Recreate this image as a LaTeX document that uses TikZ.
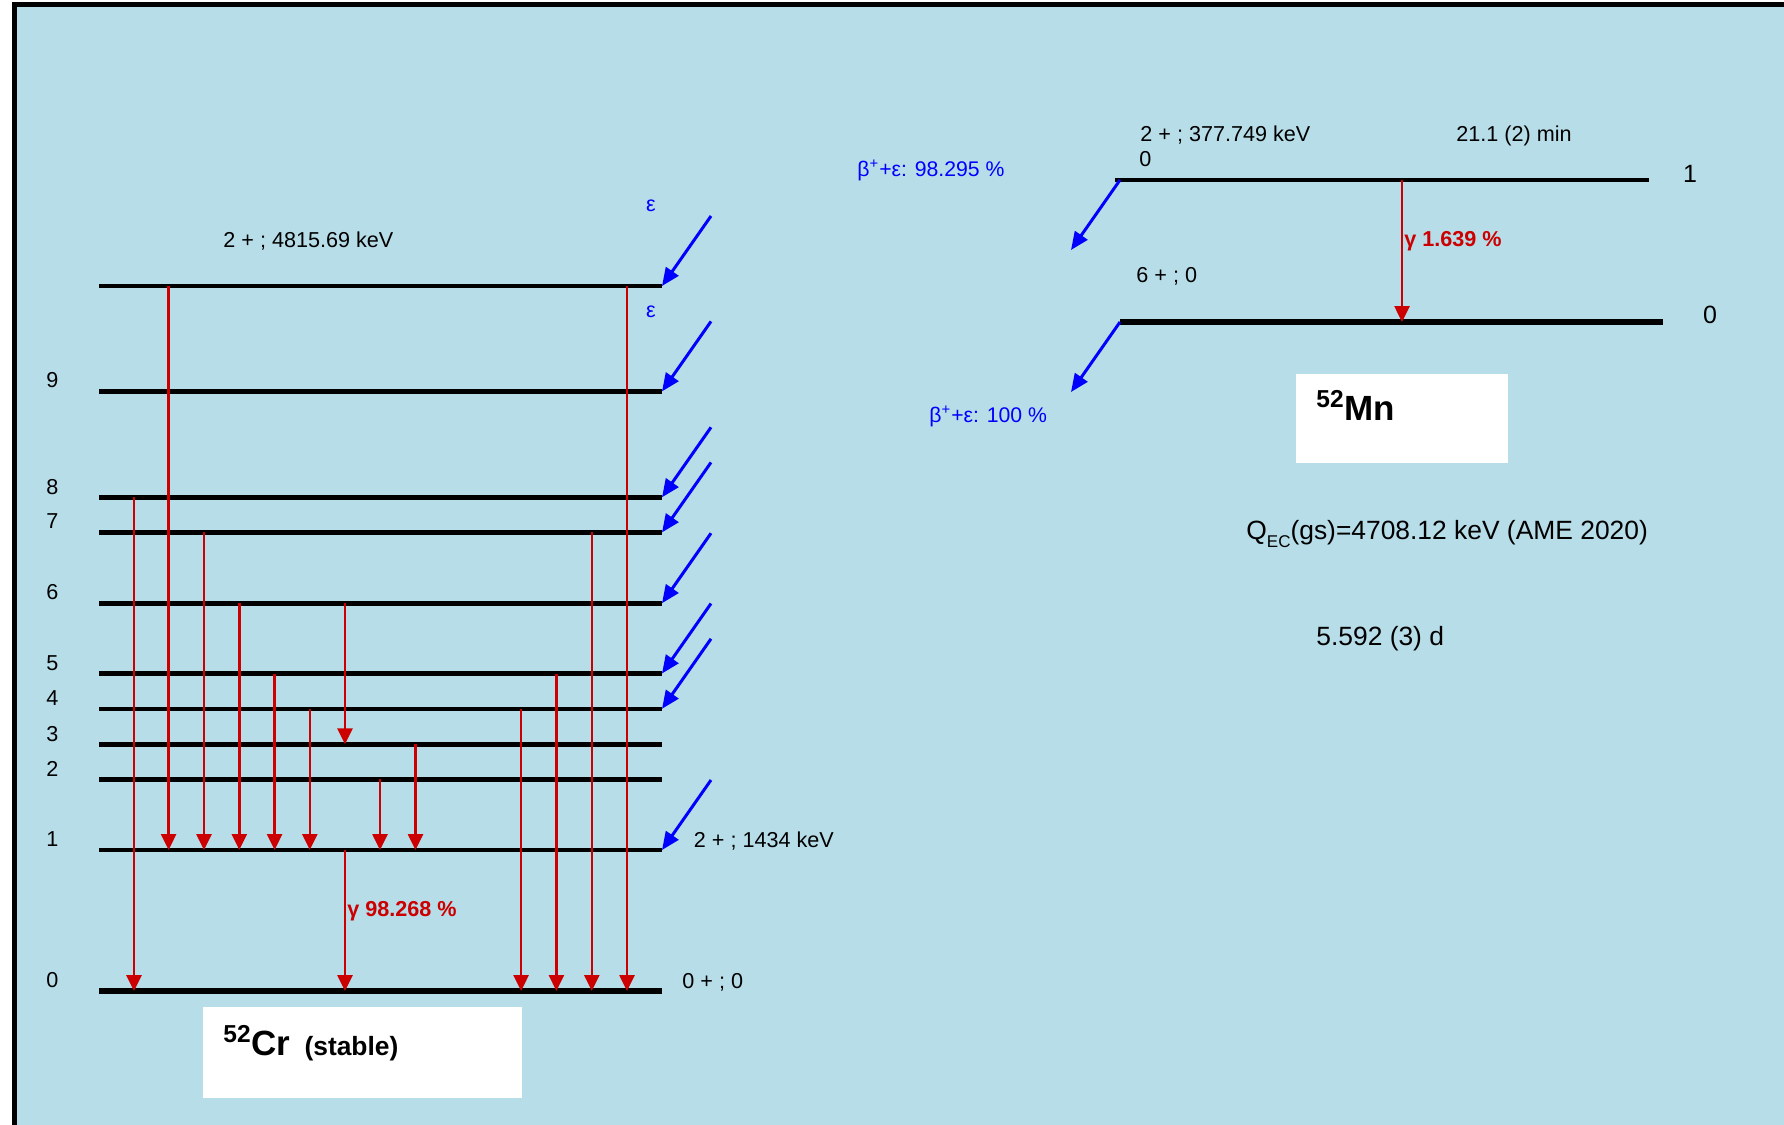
\documentclass[tikz,border=0pt]{standalone}
\usepackage{fontspec}
\setmainfont{Liberation Sans}
\usetikzlibrary{arrows.meta,calc}
\definecolor{bg}{RGB}{183,221,232}
\definecolor{gred}{RGB}{204,0,0}
\definecolor{fblue}{RGB}{0,0,255}
\begin{document}
\begin{tikzpicture}[x=0.5pt,y=-0.5pt,
  lev/.style={line width=2.3pt},
  gslev/.style={line width=2.8pt},
  gam/.style={gred,line width=1.3pt,-{Triangle[width=7.5pt,length=8pt]}},
  feed/.style={fblue,line width=1.5pt,-{Triangle[width=7.5pt,length=9pt]}},
  txt/.style={inner sep=0pt,font=\fontsize{10.8}{13}\selectfont},
  num/.style={txt,anchor=base},
  lbl/.style={txt,anchor=base west},
  blbl/.style={lbl,text=fblue,font=\fontsize{10.6}{13}\selectfont},
  glbl/.style={lbl,text=gred,font=\fontsize{10.8}{13}\selectfont\bfseries},
  big/.style={inner sep=0pt,anchor=base west,font=\fontsize{13.2}{16}\selectfont},
  wbox/.style={fill=white,draw=none,inner sep=0pt},
  nuc/.style={inner sep=0pt,anchor=base west,font=\bfseries\fontsize{17.5}{20}\selectfont}
]
\useasboundingbox (0,0) rectangle (1784,1125);
\clip (0,0) rectangle (1784,1125);
% background and frame
\fill[white] (0,0) rectangle (1784,1125);
\fill[bg] (14.3,4.7) rectangle (1800,1140);
\draw[line width=2.5pt] (14.3,1140) -- (14.3,4.7) -- (1800,4.7);

% ---------- 52Cr levels ----------
\foreach \n/\y in {T/286,9/391.4,8/497.3,7/532.4,6/603.2,5/673.5,4/708.8,3/744.3,2/779.4,1/850,0/991}{
  \coordinate (L\n) at (99,\y);
  \coordinate (R\n) at (662,\y);
}
\foreach \n in {T,9,8,7,6,5,4,3,2,1}{\draw[lev] (L\n) -- (R\n);}
\draw[gslev] (L0) -- (R0);

% level numbers
\foreach \n/\y in {9/387,8/494,7/528.5,6/599.5,5/670,4/705.3,3/741,2/776,1/846.5,0/987.5}{
  \node[num] (num\n) at (52.5,\y) {\n};
}

% gamma transitions in 52Cr
\draw[gam] (134,0 |- L8) -- (134,0 |- L0);
\draw[gam] (168.6,0 |- LT) -- (168.6,0 |- L1);
\draw[gam] (204,0 |- L7) -- (204,0 |- L1);
\draw[gam] (239.3,0 |- L6) -- (239.3,0 |- L1);
\draw[gam] (274.6,0 |- L5) -- (274.6,0 |- L1);
\draw[gam] (309.8,0 |- L4) -- (309.8,0 |- L1);
\draw[gam] (345,0 |- L6) -- (345,0 |- L3);
\draw[gam] (345,0 |- L1) -- (345,0 |- L0);
\draw[gam] (380,0 |- L2) -- (380,0 |- L1);
\draw[gam] (415.5,0 |- L3) -- (415.5,0 |- L1);
\draw[gam] (521.1,0 |- L4) -- (521.1,0 |- L0);
\draw[gam] (556.4,0 |- L5) -- (556.4,0 |- L0);
\draw[gam] (591.8,0 |- L7) -- (591.8,0 |- L0);
\draw[gam] (627,0 |- LT) -- (627,0 |- L0);

% feeding arrows
\foreach \n in {T,9,8,7,6,5,4,1}{
  \draw[feed] ($(R\n)+(49,-70)$) -- (R\n);
}
\node[num,text=fblue] (epsA) at (651,211) {ε};
\node[num,text=fblue] (epsB) at (651,317) {ε};

% 52Cr texts
\node[lbl] (tTop) at (223,247) {2 + ; 4815.69 keV};
\node[lbl] (t1) at (693.5,847) {2 + ; 1434 keV};
\node[lbl] (t0) at (682,988) {0 + ; 0};
\node[glbl] (g1) at (347,916) {γ 98.268 \%};
\node[wbox,minimum width=159.5pt,minimum height=45.5pt] (crbox) at (362.5,1052.5) {};
\node[nuc] (crname) at (223,1055) {\textsuperscript{52}Cr\hspace{7pt}{\fontsize{13.2}{15}\selectfont (stable)}};

% ---------- 52Mn levels ----------
\coordinate (M1l) at (1115,180);
\coordinate (M1r) at (1648.6,180);
\coordinate (M0l) at (1120,322);
\coordinate (M0r) at (1663,322);
\coordinate (F1) at (1120,180);
\draw[lev] (M1l) -- (M1r);
\draw[gslev] (M0l) -- (M0r);
\draw[gam] (1402,0 |- M1l) -- (1402,0 |- M0l);
\draw[feed] (F1) -- ($(F1)+(-49,70)$);
\draw[feed] (M0l) -- ($(M0l)+(-49,70)$);

\node[lbl] (m1a) at (1140,141) {2 + ; 377.749 keV};
\node[lbl] (m1b) at (1139,166) {0};
\node[lbl] (m1t) at (1456,141) {21.1 (2) min};
\node[lbl] (m0a) at (1136,282) {6 + ; 0};
\node[glbl] (g2) at (1404,246) {γ 1.639 \%};
\node[blbl] (b1) at (857,176) {β\textsuperscript{+}+ε: 98.295 \%};
\node[blbl] (b0) at (929,422) {β\textsuperscript{+}+ε: 100 \%};
\node[inner sep=0pt,anchor=base,font=\fontsize{12.5}{15}\selectfont] (mnum1) at (1690,182) {1};
\node[inner sep=0pt,anchor=base,font=\fontsize{12.5}{15}\selectfont] (mnum0) at (1710,323) {0};
\node[wbox,minimum width=106pt,minimum height=44.5pt] (mnbox) at (1402,418.5) {};
\node[nuc] (mnname) at (1316,420) {\textsuperscript{52}Mn};

\node[big] (qec) at (1246,539) {Q\raisebox{-4pt}{\fontsize{8.5}{10}\selectfont EC}(gs)=4708.12 keV (AME 2020)};
\node[big] (thalf) at (1316,645) {5.592 (3) d};
\end{tikzpicture}
\end{document}
